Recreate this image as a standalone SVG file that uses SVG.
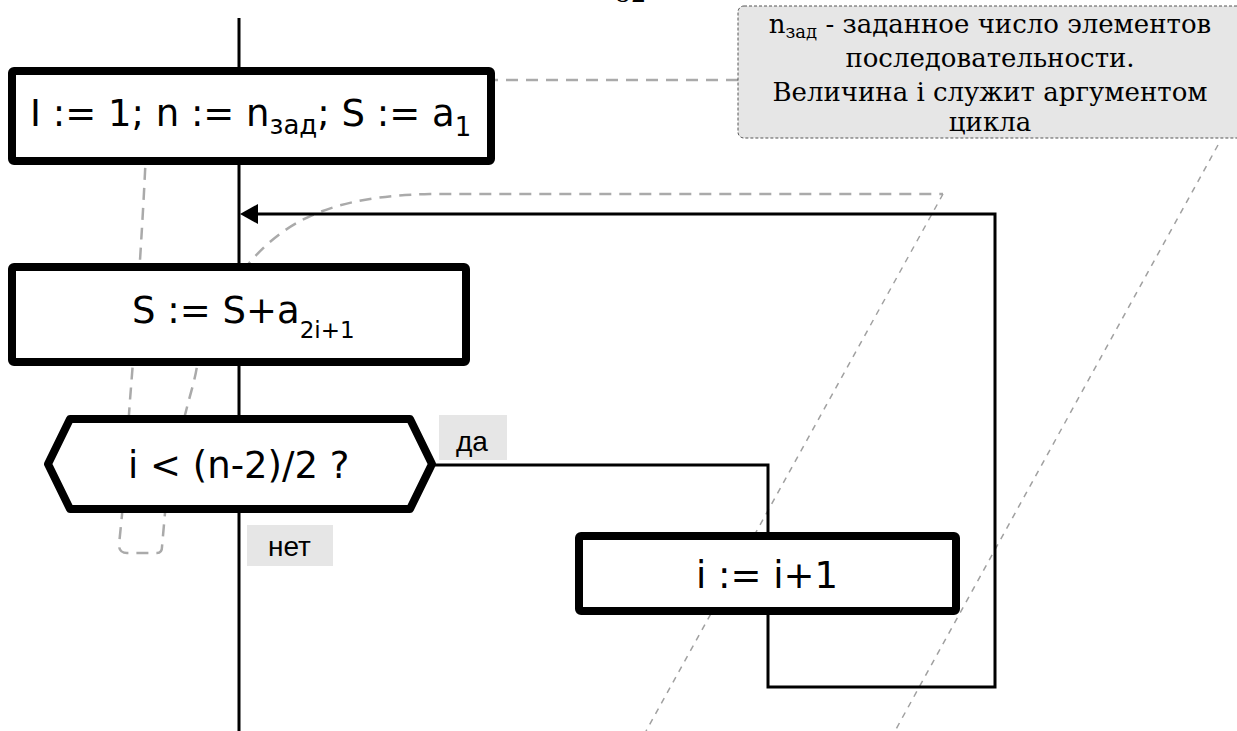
<svg xmlns="http://www.w3.org/2000/svg" width="1237" height="731" viewBox="0 0 1237 731">
  <defs>
    <style>
      .node { fill: #ffffff; stroke: #000000; stroke-width: 8; stroke-linejoin: round; }
      .flow { fill: none; stroke: #000000; stroke-width: 3; }
      .main { font-family: "DejaVu Sans", sans-serif; font-size: 37px; fill: #000000; }
      .sub { font-size: 26px; }
      .sub-s { font-size: 23px; }
      .lbl-bg { fill: #e6e6e6; }
      .lbl { font-family: "Liberation Sans", Arial, sans-serif; font-size: 28px; fill: #000000; }
      .note { fill: #e6e6e6; stroke: #555555; stroke-width: 1; stroke-dasharray: 3 2; }
      .note-text { font-family: "DejaVu Serif", serif; font-size: 26px; fill: #000000; text-anchor: middle; }
      .guide { fill: none; stroke: #aaaaaa; stroke-width: 2.5; stroke-dasharray: 12 8; }
      .guide-thin { fill: none; stroke: #a0a0a0; stroke-width: 1.5; stroke-dasharray: 6 6; }
    </style>
  </defs>

  <!-- page number, cut at the top edge -->
  <text x="631" y="2" font-family="DejaVu Serif, serif" font-size="24" text-anchor="middle">52</text>

  <!-- gray guide lines in the background -->
  <g id="guides">
    <path class="guide" d="M738,80 L146,80 L146,150 C144,200 138,300 130,400 L122,515 L119,545 Q119,553 127,553 L157,553 Q162,553 162,547 L165,513 L185,415 C190,395 195,380 197,366 C205,330 225,290 250,262 C285,222 330,196 430,194 L943,194"/>
    <path class="guide-thin" d="M943,194 L646,731"/>
    <path class="guide-thin" d="M1218,145 L895,731"/>
  </g>

  <!-- connectors -->
  <g id="connectors">
    <line class="flow" x1="239" y1="18" x2="239" y2="731"/>
    <polyline class="flow" points="432,465 768,465 768,536"/>
    <polyline class="flow" points="768,611 768,687 995,687 995,214 258,214"/>
    <path d="M240,214 L258,204 L258,224 Z" fill="#000000"/>
  </g>

  <!-- comment -->
  <g id="comment">
    <rect class="note" x="738" y="6" width="510" height="132" rx="6"/>
    <text class="note-text" x="990" y="33">n<tspan font-size="18" dy="5">зад</tspan><tspan dy="-5"> - заданное число элементов</tspan></text>
    <text class="note-text" x="990" y="67">последовательности.</text>
    <text class="note-text" x="990" y="101">Величина і служит аргументом</text>
    <text class="note-text" x="990" y="131">цикла</text>
  </g>

  <!-- initialisation -->
  <g id="init">
    <rect class="node" x="12" y="71" width="479" height="90" rx="2"/>
    <text class="main" x="30" y="126">I := 1; n := n<tspan class="sub" dy="8">зад</tspan><tspan dy="-8">; S := a</tspan><tspan class="sub" dy="10">1</tspan></text>
  </g>

  <!-- accumulate -->
  <g id="accumulate">
    <rect class="node" x="12" y="267" width="454" height="95" rx="2"/>
    <text class="main" x="132" y="323">S := S+a<tspan class="sub-s" dy="15">2i+1</tspan></text>
  </g>

  <!-- loop condition -->
  <g id="condition">
    <polygon class="node" points="70,419 410,419 432,464 410,509 70,509 48,464"/>
    <text class="main" x="128" y="478">i &lt; (n-2)/2 ?</text>
  </g>

  <!-- branch labels -->
  <g id="label-yes">
    <rect class="lbl-bg" x="439" y="415" width="68" height="45"/>
    <text class="lbl" x="456" y="451">да</text>
  </g>
  <g id="label-no">
    <rect class="lbl-bg" x="247" y="525" width="86" height="41"/>
    <text class="lbl" x="268" y="556">нет</text>
  </g>

  <!-- increment -->
  <g id="increment">
    <rect class="node" x="579" y="536" width="377" height="75" rx="2"/>
    <text class="main" x="767" y="588" text-anchor="middle">i := i+1</text>
  </g>
</svg>
